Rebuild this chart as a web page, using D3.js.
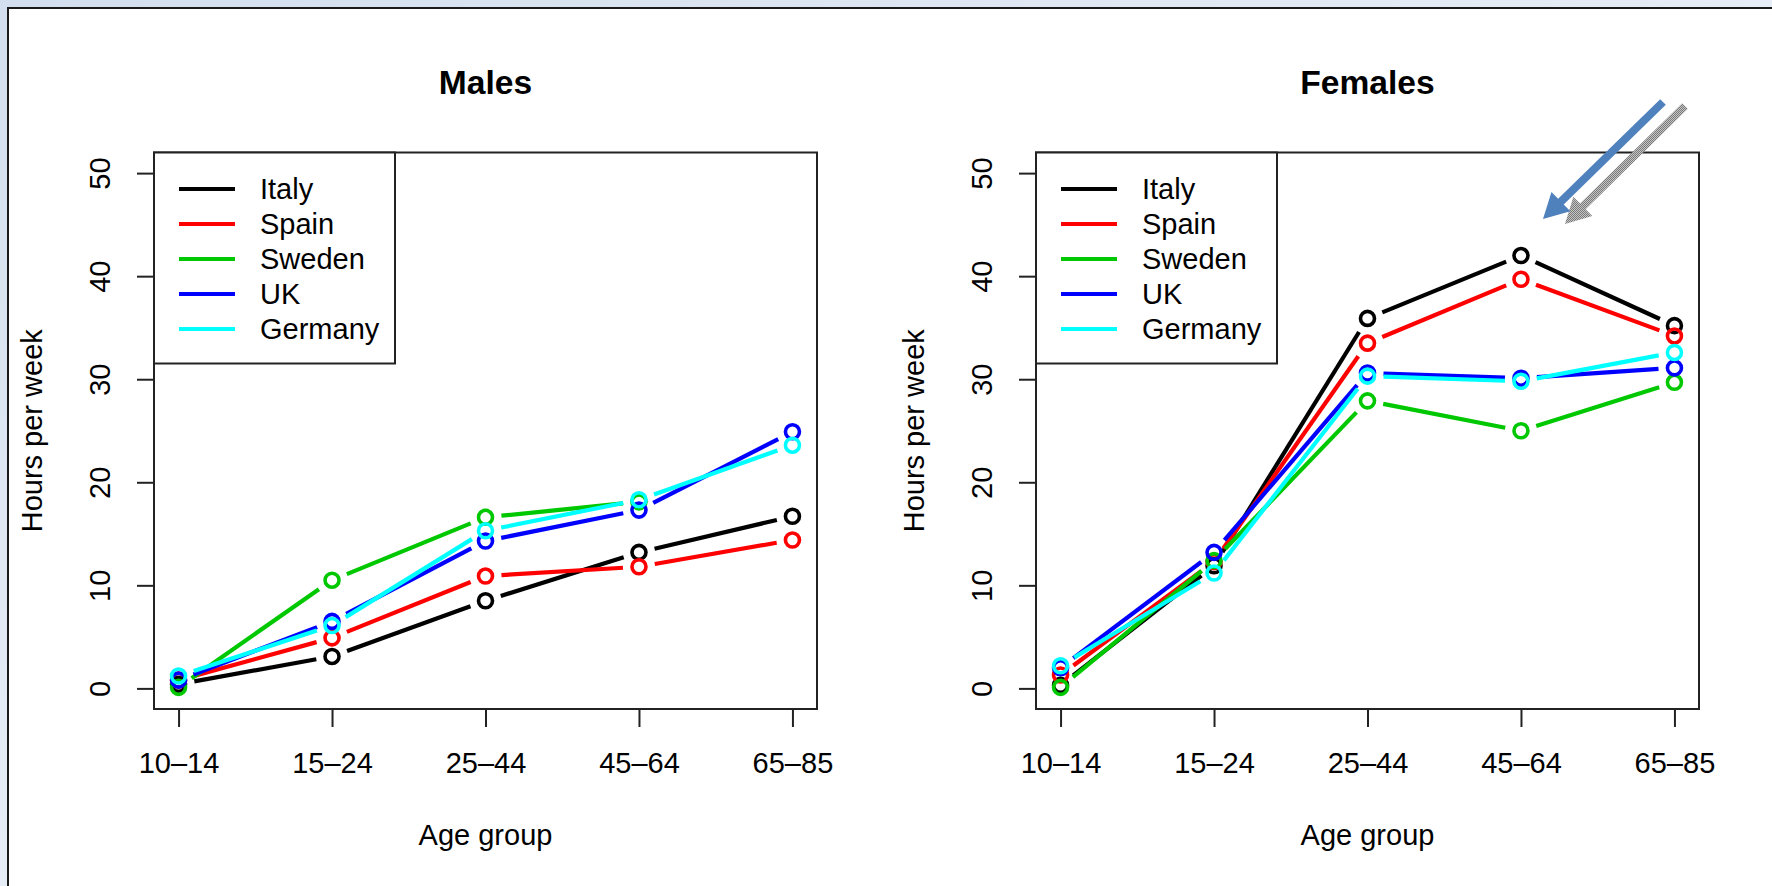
<!DOCTYPE html>
<html>
<head>
<meta charset="utf-8">
<script src="https://cdn.jsdelivr.net/npm/d3@7"></script>
<style>
  html, body { margin: 0; padding: 0; background: #dae4f1; }
  svg { display: block; }
  text { font-family: "Liberation Sans", Arial, Helvetica, sans-serif; fill: #000; }
</style>
</head>
<body>
<svg id="chart" width="1772" height="886"></svg>
<script>
// ---------------- data ----------------
const ageGroups = ["10–14", "15–24", "25–44", "45–64", "65–85"];
const countries = ["Italy", "Spain", "Sweden", "UK", "Germany"];
const countryColors = ["#000000", "#FF0000", "#00C800", "#0000FF", "#00FFFF"];
const yTicks = [0, 10, 20, 30, 40, 50];

const malesItaly   = [0.4, 3.1, 8.5, 13.2, 16.7];
const malesSpain   = [0.8, 4.9, 10.9, 11.8, 14.4];
const malesSweden  = [0.1, 10.5, 16.6, 18.1, null];
const malesUK      = [0.8, 6.5, 14.3, 17.3, 24.9];
const malesGermany = [1.2, 6.1, 15.3, 18.3, 23.6];

const femalesItaly   = [0.3, 11.9, 35.9, 42.0, 35.2];
const femalesSpain   = [1.3, 12.3, 33.5, 39.7, 34.2];
const femalesSweden  = [0.1, 12.4, 27.9, 25.0, 29.7];
const femalesUK      = [2.0, 13.2, 30.6, 30.1, 31.1];
const femalesGermany = [2.2, 11.2, 30.3, 29.8, 32.6];

const panels = [
  { title: "Males",   series: [malesItaly, malesSpain, malesSweden, malesUK, malesGermany], left: 154 },
  { title: "Females", series: [femalesItaly, femalesSpain, femalesSweden, femalesUK, femalesGermany], left: 1036 }
];

// ---------------- drawing ----------------
const svg = d3.select("#chart");

const defs = svg.append("defs");
const grad = defs.append("linearGradient").attr("id", "bg").attr("x1", 0).attr("y1", 0).attr("x2", 1).attr("y2", 1);
grad.append("stop").attr("offset", "0%").attr("stop-color", "#d3dfee");
grad.append("stop").attr("offset", "50%").attr("stop-color", "#e6edf6");
grad.append("stop").attr("offset", "100%").attr("stop-color", "#d3dfee");
svg.append("rect").attr("width", 1772).attr("height", 886).attr("fill", "url(#bg)");
svg.append("rect").attr("x", 8).attr("y", 8).attr("width", 1800).attr("height", 900)
  .attr("fill", "#fff").attr("stroke", "#1a1a1a").attr("stroke-width", 2);

const pat = defs.append("pattern").attr("id", "grayDots").attr("patternUnits", "userSpaceOnUse")
  .attr("width", 2).attr("height", 2);
pat.append("rect").attr("width", 2).attr("height", 2).attr("fill", "#c4c4c4");
pat.append("rect").attr("width", 1).attr("height", 1).attr("fill", "#7a7a7a");
pat.append("rect").attr("x", 1).attr("y", 1).attr("width", 1).attr("height", 1).attr("fill", "#7a7a7a");

const plotW = 663, plotTop = 152.5, plotBottom = 709;
const GAP = 16;        // R type="b" gap around points
const FS = 29;         // base font size

panels.forEach((p, pi) => {
  const x = d3.scaleLinear().domain([0.84, 5.16]).range([p.left, p.left + plotW]);
  const y = d3.scaleLinear().domain([-2, 52]).range([plotBottom, plotTop]);
  const g = svg.append("g");

  g.append("text").attr("x", p.left + plotW / 2).attr("y", 94)
    .attr("text-anchor", "middle").attr("font-weight", "bold").attr("font-size", 33.6)
    .text(p.title);

  const xAxis = d3.axisBottom(x).tickValues([1, 2, 3, 4, 5]).tickFormat(d => ageGroups[d - 1])
    .tickSize(18).tickPadding(0);
  const xg = g.append("g").attr("transform", `translate(0,${plotBottom})`).call(xAxis);
  xg.select(".domain").remove();
  xg.selectAll(".tick line").attr("stroke", "#222").attr("stroke-width", 2);
  xg.selectAll(".tick text").attr("font-size", FS).attr("dy", null).attr("y", 64)
    .attr("font-family", "Liberation Sans, Arial, sans-serif").attr("fill", "#000");

  const yAxis = d3.axisLeft(y).tickValues(yTicks).tickSize(17).tickPadding(0);
  const yg = g.append("g").attr("transform", `translate(${p.left},0)`).call(yAxis);
  yg.select(".domain").remove();
  yg.selectAll(".tick line").attr("stroke", "#222").attr("stroke-width", 2);
  yg.selectAll(".tick text").attr("font-size", FS).attr("x", null).attr("dy", null)
    .attr("text-anchor", "middle")
    .attr("transform", "translate(-44,0) rotate(-90)")
    .attr("font-family", "Liberation Sans, Arial, sans-serif").attr("fill", "#000");

  g.append("text").attr("x", p.left + plotW / 2).attr("y", 845)
    .attr("text-anchor", "middle").attr("font-size", FS).text("Age group");
  g.append("text")
    .attr("transform", `translate(${p.left - 112},${(plotTop + plotBottom) / 2}) rotate(-90)`)
    .attr("text-anchor", "middle").attr("font-size", FS).text("Hours per week");

  p.series.forEach((vals, si) => {
    const col = countryColors[si];
    const pts = vals.map((v, i) => v == null ? null : [x(i + 1), y(v)]);
    const sg = g.append("g");
    for (let i = 0; i < pts.length - 1; i++) {
      const a = pts[i], b = pts[i + 1];
      if (!a || !b) continue;
      const dx = b[0] - a[0], dy = b[1] - a[1], L = Math.hypot(dx, dy);
      if (L <= 2 * GAP) continue;
      const ux = dx / L, uy = dy / L;
      sg.append("line")
        .attr("x1", a[0] + ux * GAP).attr("y1", a[1] + uy * GAP)
        .attr("x2", b[0] - ux * GAP).attr("y2", b[1] - uy * GAP)
        .attr("stroke", col).attr("stroke-width", 4.2).attr("stroke-linecap", "butt");
    }
    sg.selectAll("circle").data(pts.filter(d => d)).enter().append("circle")
      .attr("cx", d => d[0]).attr("cy", d => d[1]).attr("r", 7)
      .attr("fill", "none").attr("stroke", col).attr("stroke-width", 3.6);
  });

  g.append("rect").attr("x", p.left).attr("y", plotTop).attr("width", plotW).attr("height", plotBottom - plotTop)
    .attr("fill", "none").attr("stroke", "#222").attr("stroke-width", 2);

  const lg = g.append("g");
  lg.append("rect").attr("x", p.left).attr("y", plotTop).attr("width", 241).attr("height", 211)
    .attr("fill", "#fff").attr("stroke", "#222").attr("stroke-width", 2);
  countries.forEach((c, i) => {
    const cy = 189 + i * 35;
    lg.append("line").attr("x1", p.left + 25).attr("x2", p.left + 81).attr("y1", cy).attr("y2", cy)
      .attr("stroke", countryColors[i]).attr("stroke-width", 4.2);
    lg.append("text").attr("x", p.left + 106).attr("y", cy + 10).attr("font-size", FS).text(c);
  });
});

function arrow(tail, tip, fill) {
  const dx = tip[0] - tail[0], dy = tip[1] - tail[1], L = Math.hypot(dx, dy);
  const ux = dx / L, uy = dy / L, nx = -uy, ny = ux;
  const w = 8, hl = 25, hw = 27;
  const bx = tip[0] - ux * hl, by = tip[1] - uy * hl;
  const P = [
    [tail[0] + nx * w / 2, tail[1] + ny * w / 2],
    [bx + nx * w / 2, by + ny * w / 2],
    [bx + nx * hw / 2, by + ny * hw / 2],
    tip,
    [bx - nx * hw / 2, by - ny * hw / 2],
    [bx - nx * w / 2, by - ny * w / 2],
    [tail[0] - nx * w / 2, tail[1] - ny * w / 2]
  ];
  svg.append("path").attr("d", "M" + P.map(q => q.join(",")).join("L") + "Z").attr("fill", fill);
}
arrow([1685, 106], [1565, 224], "url(#grayDots)");
arrow([1663, 102], [1543, 219], "#4f81bd");
</script>
</body>
</html>
